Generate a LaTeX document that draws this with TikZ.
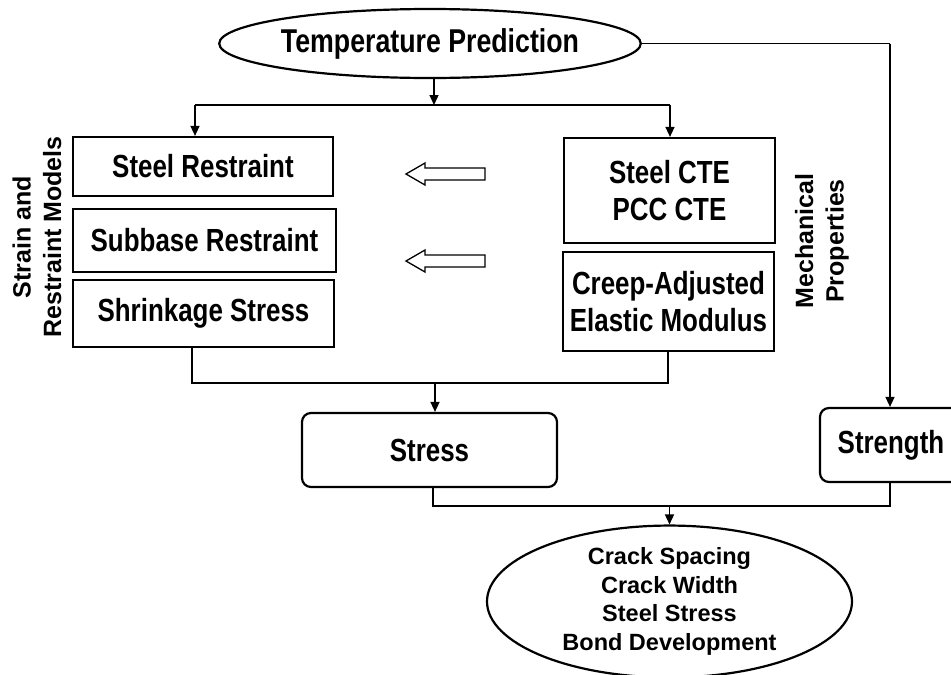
\documentclass[tikz,border=0pt]{standalone}
\usepackage{fontspec}
\setmainfont{Liberation Sans}
\newfontfamily\narrowfont[FakeStretch=0.81]{Liberation Sans}
\usetikzlibrary{arrows.meta,shapes.geometric}
\tikzset{
  boxstyle/.style={draw, line width=2.2pt, inner sep=0pt, align=center,
    font=\narrowfont\bfseries\fontsize{32}{37}\selectfont},
  ellstyle/.style={draw, ellipse, line width=2.2pt, inner sep=0pt, align=center},
  sidelabel/.style={rotate=90, align=center, inner sep=0pt,
    font=\bfseries\fontsize{25}{30.5}\selectfont},
  conn/.style={line width=1.4pt},
  arr/.style={conn, -{Triangle[length=10pt,width=9pt]}},
  hollow/.style={draw, line width=1.3pt, fill=white, line join=miter}
}
\begin{document}
\begin{tikzpicture}[x=1pt,y=-1pt]
\useasboundingbox (0,0) rectangle (951,675);

% nodes
\node[ellstyle, minimum width=396pt, minimum height=69pt,
  font=\narrowfont\bfseries\fontsize{33}{38}\selectfont] (tp) at (430,43.5) {Temperature Prediction};

\node[boxstyle, minimum width=260pt, minimum height=59pt] (sr) at (203,166.5) {Steel Restraint};
\node[boxstyle, minimum width=263pt, minimum height=63pt] (sub) at (204.5,240.5) {Subbase Restraint};
\node[boxstyle, minimum width=261pt, minimum height=67pt] (shr) at (203.5,313.5) {Shrinkage Stress};

\node[boxstyle, minimum width=211pt, minimum height=105pt] (cte) at (669.5,190.5) {Steel CTE\\PCC CTE};
\node[boxstyle, minimum width=211pt, minimum height=99pt] (creep) at (668.5,301.5) {Creep-Adjusted\\Elastic Modulus};

\node[sidelabel] (srm) at (37,237) {Strain and\\Restraint Models};
\node[sidelabel] (mp) at (822,241) {Mechanical\\Properties};

\node[boxstyle, rounded corners=9pt, minimum width=255pt, minimum height=74pt] (stress) at (429.5,450) {Stress};
\node[boxstyle, rounded corners=9pt, minimum width=142pt, minimum height=74pt] (strength) at (891,445) {Strength};

\node[ellstyle, minimum width=365pt, minimum height=143pt,
  font=\bfseries\fontsize{23.5}{28.5}\selectfont] (out) at (669.5,601.5)
  {Crack Spacing\\Crack Width\\Steel Stress\\Bond Development};

% junction coordinates
\coordinate (j1) at (434,105);
\coordinate (jl) at (195,105);
\coordinate (jr) at (670,105);
\coordinate (bl) at (192,383);
\coordinate (br) at (668,383);
\coordinate (bm) at (435,383);
\coordinate (tr) at (890,43.5);
\coordinate (ol) at (433,506);
\coordinate (or) at (890,506);
\coordinate (om) at (669.5,506);

% connectors
\draw[arr] (tp.south -| j1) -- (j1);
\draw[conn] (jl) -- (jr);
\draw[arr] (jl) -- (jl |- sr.north);
\draw[arr] (jr) -- (jr |- cte.north);

\draw[conn] (bl |- shr.south) -- (bl) -- (br) -- (br |- creep.south);
\draw[arr] (bm) -- (bm |- stress.north);

\draw[conn] (tp.east) -- (tr);
\draw[arr] (tr) -- (tr |- strength.north);

\draw[conn] (ol |- stress.south) -- (ol) -- (or) -- (or |- strength.south);
\draw[arr] (om) -- (out.north);

% hollow arrows
\draw[hollow] (406,174) -- (425,163) -- (425,168) -- (485,168) -- (485,180) -- (425,180) -- (425,185) -- cycle;
\draw[hollow] (406,261) -- (425,250) -- (425,255) -- (485,255) -- (485,267) -- (425,267) -- (425,272) -- cycle;
\end{tikzpicture}
\end{document}
